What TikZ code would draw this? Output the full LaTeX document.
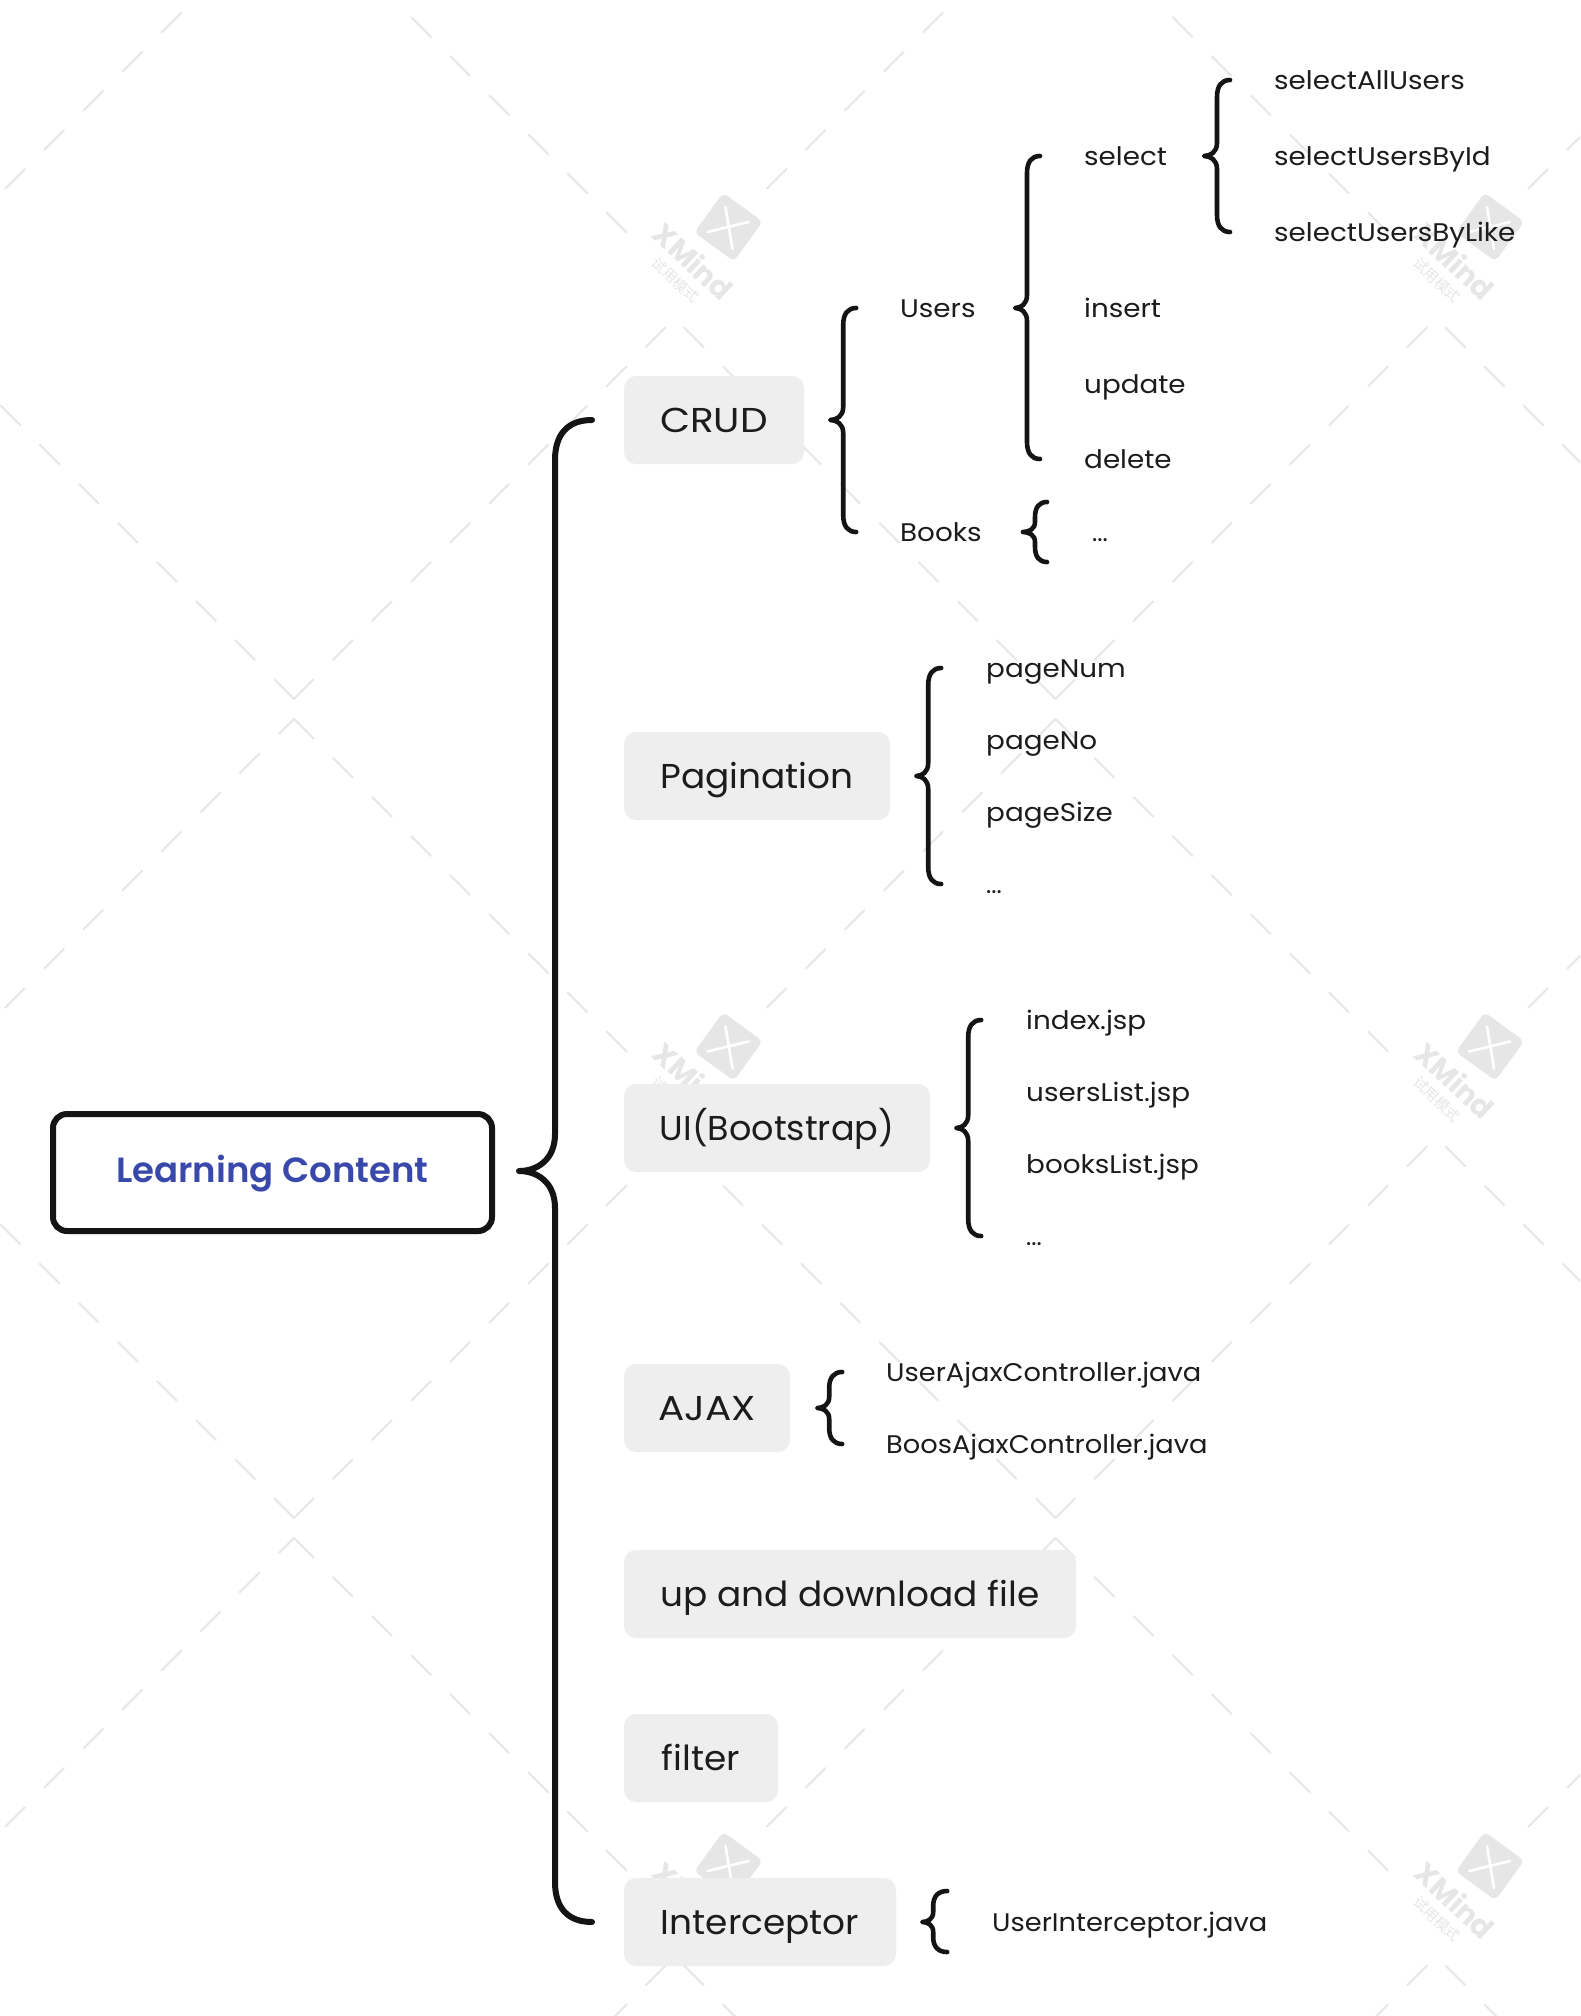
\documentclass[tikz,border=0pt]{standalone}
\usepackage{fontspec}
\setmainfont{Poppins}
\newfontfamily\cjk{Noto Sans CJK SC}
\newfontfamily\rootfont[FakeStretch=1.015]{Poppins SemiBold}
\newfontfamily\leaffont[FakeStretch=1.09]{Poppins}
\newfontfamily\javafont[FakeStretch=1.07]{Poppins}
\newfontfamily\topicfont[FakeStretch=1.04]{Poppins}
\newfontfamily\uifont[FakeStretch=1.015]{Poppins}
\newfontfamily\capsfont[FakeStretch=1.13]{Poppins}
\usetikzlibrary{calc}
\definecolor{ink}{HTML}{141414}
\definecolor{txt}{HTML}{1C1C1C}
\definecolor{wm}{HTML}{E6E6E6}
\definecolor{topicbg}{HTML}{EEEEEE}
\definecolor{rootblue}{HTML}{3949AB}
\tikzset{
  wmdash/.style={draw=wm,line width=2pt,line cap=round},
  leaf/.style={anchor=west,inner sep=0pt,text height=24pt,text depth=6pt,text=txt,font=\fontsize{25.5}{30}\leaffont},
  javaleaf/.style={leaf,font=\fontsize{25.5}{30}\javafont},
  dots/.style={anchor=west,inner sep=0pt,text height=24pt,text depth=6pt,text=txt,font=\fontsize{25}{30}\selectfont},
  topic/.style={fill=topicbg,rounded corners=12pt,inner sep=0pt,text height=32pt,text depth=8pt,text=txt,minimum height=88pt,font=\fontsize{34.5}{40}\topicfont},
  captopic/.style={topic,font=\fontsize{34.5}{40}\capsfont},
  uitopic/.style={topic,font=\fontsize{34.5}{40}\uifont},
  rootbox/.style={draw=ink,fill=white,line width=6pt,rounded corners=14pt,inner sep=0pt,text height=28pt,text depth=8pt,minimum width=439pt,minimum height=117pt,text=rootblue,font=\fontsize{35}{42}\rootfont},
  bigbrace/.style={draw=ink,line width=6pt,line cap=round,line join=round},
  subbrace/.style={draw=ink,line width=4.6pt,line cap=round,line join=round}
}
% #1 tip, #2 top, #3 bottom, #4 spine dx, #5 end dx, #6 corner dy, #7 tip dy, #8 style
\newcommand\brc[8]{%
  \draw[#8] let \p1=(#1),\p2=(#2),\p3=(#3) in
    ({\x1+#4pt+#5pt},\y2)
    .. controls ({\x1+#4pt+0.35*#5pt},\y2) and ({\x1+#4pt},{\y2-0.35*#6pt}) .. ({\x1+#4pt},{\y2-#6pt})
    -- ({\x1+#4pt},{\y1+#7pt})
    .. controls ({\x1+#4pt},{\y1+0.3*#7pt}) and ({\x1+0.5*#4pt},\y1) .. (\x1,\y1)
    .. controls ({\x1+0.5*#4pt},\y1) and ({\x1+#4pt},{\y1-0.3*#7pt}) .. ({\x1+#4pt},{\y1-#7pt})
    -- ({\x1+#4pt},{\y3+#6pt})
    .. controls ({\x1+#4pt},{\y3+0.35*#6pt}) and ({\x1+#4pt+0.35*#5pt},\y3) .. ({\x1+#4pt+#5pt},\y3);
}
\begin{document}
\begin{tikzpicture}[x=1pt,y=-1pt]
\useasboundingbox (0,0) rectangle (1580,2016);
\fill[white] (0,0) rectangle (1580,2016);
\begin{scope}
\clip (0,0) rectangle (1580,2016);
\foreach \m in {-1,0,1,2} \foreach \n in {-1,0,1,2} {
  \pgfmathsetmacro\cx{294+761.5*\m}
  \pgfmathsetmacro\cy{819*\n}
  \foreach \k in {0,...,9} {
    \pgfmathsetmacro\d{39.1*\k}
    \draw[wmdash] ({\cx+\d},{\cy+699-\d}) -- ({\cx+\d+19.5},{\cy+699-\d-19.5});
    \draw[wmdash] ({\cx-\d},{\cy+699-\d}) -- ({\cx-\d-19.5},{\cy+699-\d-19.5});
  }
  \foreach \k in {0,...,8} {
    \pgfmathsetmacro\d{39.1*\k}
    \draw[wmdash] ({\cx+\d},{\cy+719+\d}) -- ({\cx+\d+19.5},{\cy+719+\d+19.5});
  }
  \draw[wmdash] (\cx,\cy+719) -- (\cx-15,\cy+734);
  \foreach \k in {1,...,7} {
    \pgfmathsetmacro\d{39.1*\k}
    \draw[wmdash] ({\cx+4.5-\d},{\cy+714.5+\d}) -- ({\cx+4.5-\d-19.5},{\cy+714.5+\d+19.5});
  }
}
\foreach \m in {0,1} \foreach \n in {0,1,2} {
  \pgfmathsetmacro\lx{728.5+761.5*\m}
  \pgfmathsetmacro\ly{227+819.5*\n}
  \node[fill=wm,rounded corners=5pt,minimum size=49pt,inner sep=0pt,rotate=-36] (logo\m\n) at (\lx,\ly) {};
  \draw[white,line width=2.6pt,line cap=round] ($(logo\m\n)+(-3,-20)$) -- ($(logo\m\n)+(4,22)$);
  \draw[white,line width=2.6pt,line cap=round] ($(logo\m\n)+(-21,5)$) -- ($(logo\m\n)+(20,-5)$);
  \node[rotate=-43,text=wm,inner sep=0pt,font=\fontsize{29}{30}\selectfont\bfseries] (xm\m\n) at ($(logo\m\n)+(-35,34)$) {XMind};
  \node[rotate=-43,text=wm,inner sep=0pt,font=\fontsize{14.5}{16}\cjk] (cn\m\n) at ($(logo\m\n)+(-53,53)$) {试用模式};
}
\end{scope}
% root and topics
\node[rootbox] (root) at (272.5,1172.5) {Learning Content};
\node[captopic,minimum width=180pt] (crud) at (714,420) {CRUD};
\node[topic,minimum width=266pt] (pag) at (757,776) {Pagination};
\node[uitopic,minimum width=306pt] (ui) at (777,1128) {UI(Bootstrap)};
\node[captopic,minimum width=166pt] (ajax) at (707,1408) {AJAX};
\node[topic,minimum width=452pt] (updown) at (850,1594) {up and download file};
\node[topic,minimum width=154pt] (filt) at (701,1758) {filter};
\node[topic,minimum width=272pt] (inter) at (760,1922) {Interceptor};
% leaves
\node[leaf] (users) at (900,308) {Users};
\node[leaf] (books) at (900,532) {Books};
\node[leaf] (sel) at (1084,156) {select};
\node[leaf] (ins) at (1084,308) {insert};
\node[leaf] (upd) at (1084,384) {update};
\node[leaf] (del) at (1084,459) {delete};
\node[dots] (bdots) at (1092,532) {...};
\node[leaf] (sa) at (1274,80) {selectAllUsers};
\node[leaf] (si) at (1274,156) {selectUsersById};
\node[leaf] (sl) at (1274,232) {selectUsersByLike};
\node[leaf] (pn) at (986,668) {pageNum};
\node[leaf] (pno) at (986,740) {pageNo};
\node[leaf] (ps) at (986,812) {pageSize};
\node[dots] (pd) at (986,884) {...};
\node[leaf] (ix) at (1026,1020) {index.jsp};
\node[leaf] (ul) at (1026,1092) {usersList.jsp};
\node[leaf] (bl) at (1026,1164) {booksList.jsp};
\node[dots] (ud) at (1026,1236) {...};
\node[javaleaf] (uac) at (886,1372) {UserAjaxController.java};
\node[javaleaf] (bac) at (886,1444) {BoosAjaxController.java};
\node[javaleaf] (uic) at (992,1922) {UserInterceptor.java};
% brace tips and free ends
\coordinate (rootTip) at ([xshift=24pt,yshift=1.5pt]root.east);
\coordinate (crudTip) at ([xshift=26pt]crud.east);
\coordinate (pagTip) at ([xshift=26pt]pag.east);
\coordinate (uiTip) at ([xshift=26pt]ui.east);
\coordinate (ajaxTip) at ([xshift=27pt]ajax.east);
\coordinate (interTip) at ([xshift=26pt]inter.east);
\coordinate (usersTip) at (1015,308);
\coordinate (booksTip) at (1023,532);
\coordinate (selTip) at (1204,156);
\coordinate (booksTop) at (1035,502);
\coordinate (booksBot) at (1035,562);
\coordinate (interTop) at (933,1891);
\coordinate (interBot) at (933,1952);
% braces
\brc{rootTip}{crud.west}{inter.west}{36}{37}{40}{37}{bigbrace}
\brc{crudTip}{users.west}{books.west}{13}{13}{17}{13}{subbrace}
\brc{usersTip}{sel.west}{del.west}{12}{13}{17}{13}{subbrace}
\brc{booksTip}{booksTop}{booksBot}{12}{12}{15}{10}{subbrace}
\brc{selTip}{sa.west}{sl.west}{13}{13}{17}{13}{subbrace}
\brc{pagTip}{pn.west}{pd.west}{12}{13}{17}{13}{subbrace}
\brc{uiTip}{ix.west}{ud.west}{12}{13}{17}{13}{subbrace}
\brc{ajaxTip}{uac.west}{bac.west}{12}{13}{16}{11}{subbrace}
\brc{interTip}{interTop}{interBot}{11}{14}{15}{10}{subbrace}
\end{tikzpicture}
\end{document}
